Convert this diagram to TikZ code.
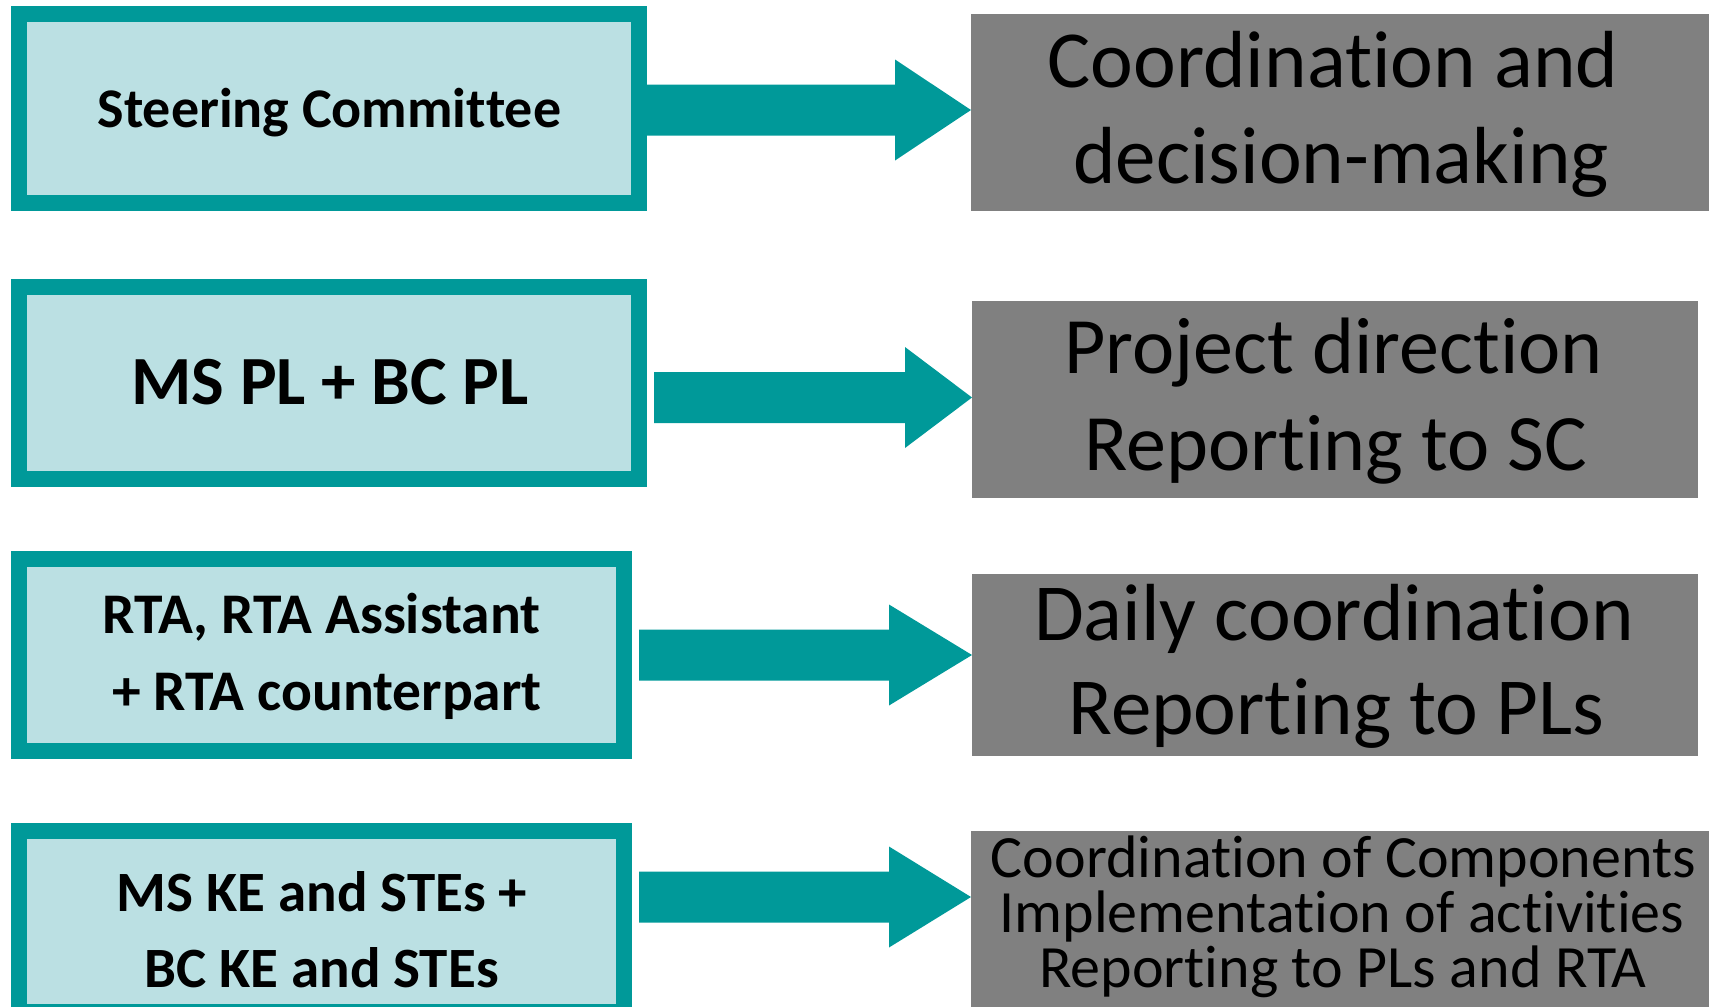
\documentclass[tikz,border=0pt]{standalone}
\usepackage{fontspec}
\setmainfont{Carlito}[RawFeature={-liga,-clig,-dlig}]
\usetikzlibrary{calc}
\definecolor{tealc}{RGB}{0,153,153}
\definecolor{lightc}{RGB}{187,224,227}
\definecolor{grayc}{RGB}{128,128,128}
\newcommand\nl{\kern0pt }% breaks unwanted ligatures
\newcommand\flowarrow[5]{% #1 from node, #2 to node, #3 shaft start shift, #4 head base x, #5 centre y
  \fill[arrowfill] ([xshift=#3pt]#1.east |- 0,#5-25.5) -- (#4,#5-25.5) -- (#4,#5-50.5)
    -- (#2.west |- 0,#5) -- (#4,#5+50.5) -- (#4,#5+25.5) -- ([xshift=#3pt]#1.east |- 0,#5+25.5) -- cycle;}
\begin{document}
\begin{tikzpicture}[x=1pt,y=-1pt,
  rolebox/.style={draw=tealc, line width=16pt, fill=lightc, inner sep=0pt},
  taskbox/.style={fill=grayc, inner sep=0pt, outer sep=0pt},
  arrowfill/.style={fill=tealc},
  roletxt/.style={anchor=base, inner sep=0pt, font=\bfseries\fontsize{#1}{#1}\selectfont},
  tasktxt/.style={anchor=base, inner sep=0pt, font=\fontsize{#1}{#1}\selectfont}]
\useasboundingbox (0,0) rectangle (1709,1007);
\clip (0,0) rectangle (1709,1007);
% left boxes
\node[rolebox, minimum width=620pt, minimum height=189pt] (b1) at (329,108.5) {};
\node[rolebox, minimum width=620pt, minimum height=192pt] (b2) at (329,383) {};
\node[rolebox, minimum width=605pt, minimum height=192pt] (b3) at (321.5,655) {};
\node[rolebox, minimum width=605pt, minimum height=181pt] (b4) at (321.5,921.5) {};
% right boxes
\node[taskbox, minimum width=738pt, minimum height=197pt] (g1) at (1340,112.5) {};
\node[taskbox, minimum width=726pt, minimum height=197pt] (g2) at (1335,399.5) {};
\node[taskbox, minimum width=726pt, minimum height=182pt] (g3) at (1335,665) {};
\node[taskbox, minimum width=738pt, minimum height=200pt] (g4) at (1340,931) {};
% arrows
\flowarrow{b1}{g1}{0}{895}{110}
\flowarrow{b2}{g2}{7}{905}{397.5}
\flowarrow{b3}{g3}{7}{889}{655}
\flowarrow{b4}{g4}{7}{889}{897}
% left texts
\node[roletxt=56pt] (t1) at (329.5,127) {Steering Commit\nl tee};
\node[roletxt=69pt] (t2) at (330,404) {MS PL + BC PL};
\node[roletxt=57.5pt] (t3a) at (321.5,633) {RTA, RTA Assistant};
\node[roletxt=57.5pt] (t3b) at (327,710) {+ RTA counterpart};
\node[roletxt=57pt] (t4a) at (322,911) {MS KE and STEs +};
\node[roletxt=57pt] (t4b) at (321.5,987) {BC KE and STEs};
% right texts
\node[tasktxt=81pt] (r1a) at (1333,87) {Coordinat\nl ion and};
\node[tasktxt=81pt] (r1b) at (1341,183) {decision-making};
\node[tasktxt=80pt] (r2a) at (1333.5,373) {Project direct\nl ion};
\node[tasktxt=80pt] (r2b) at (1336,470) {Reporting to SC};
\node[tasktxt=81pt] (r3a) at (1334,640) {Daily coordinat\nl ion};
\node[tasktxt=81pt] (r3b) at (1336.5,734) {Reporting to PLs};
\node[tasktxt=60pt] (r4a) at (1343.5,877) {Coordinat\nl ion of Components};
\node[tasktxt=60pt] (r4b) at (1342,932) {Implementat\nl ion of act\nl ivit\nl ies};
\node[tasktxt=60pt] (r4c) at (1343,987) {Reporting to PLs and RTA};
\end{tikzpicture}
\end{document}
